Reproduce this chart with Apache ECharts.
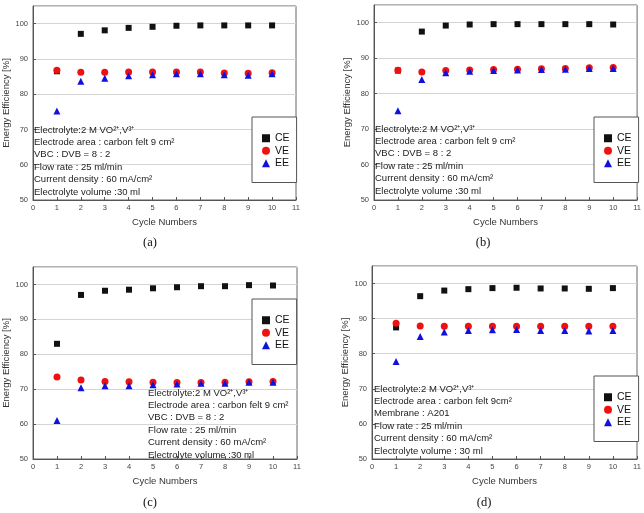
<!DOCTYPE html>
<html>
<head>
    <meta charset="utf-8">
    <title>Energy efficiency - 4 panels</title>
    <script src="https://cdn.jsdelivr.net/npm/echarts@6/dist/echarts.min.js"></script>
</head>
<body style="margin:0">
    <div id="main" style="width:644px;height:513px"></div>
    <script type="text/javascript">
    // cycle numbers
    var cycles = [1, 2, 3, 4, 5, 6, 7, 8, 9, 10];

    // (a)
    var ceA = [86.5, 97.1, 98.1, 98.8, 99.1, 99.4, 99.5, 99.5, 99.5, 99.5];
    var veA = [86.8, 86.2, 86.2, 86.3, 86.3, 86.3, 86.3, 86.0, 85.9, 86.1];
    var eeA = [75.2, 83.7, 84.5, 85.2, 85.5, 85.8, 85.8, 85.5, 85.4, 85.8];
    // (b)
    var ceB = [86.5, 97.5, 99.2, 99.5, 99.6, 99.6, 99.6, 99.6, 99.6, 99.5];
    var veB = [86.6, 86.1, 86.5, 86.7, 86.8, 86.9, 87.0, 87.1, 87.3, 87.4];
    var eeB = [75.2, 84.0, 85.9, 86.3, 86.5, 86.7, 86.8, 86.9, 87.1, 87.1];
    // (c)
    var ceC = [83.0, 97.0, 98.2, 98.5, 98.9, 99.2, 99.5, 99.5, 99.8, 99.7];
    var veC = [73.5, 72.6, 72.2, 72.1, 72.0, 71.9, 71.9, 72.0, 72.1, 72.2];
    var eeC = [61.0, 70.4, 71.0, 71.0, 71.3, 71.5, 71.7, 71.7, 72.0, 72.0];
    // (d)
    var ceD = [87.5, 96.4, 98.0, 98.4, 98.7, 98.8, 98.6, 98.6, 98.5, 98.7];
    var veD = [88.7, 87.9, 87.8, 87.8, 87.8, 87.8, 87.8, 87.8, 87.8, 87.8];
    var eeD = [77.8, 84.9, 86.2, 86.6, 86.8, 86.9, 86.6, 86.6, 86.5, 86.6];

    var seriesNames = ['CE', 'VE', 'EE'];
    var notesABC = ['Electrolyte:2 M VO²⁺,V³⁺', 'Electrode area : carbon felt 9 cm²', 'VBC : DVB = 8 : 2',
                    'Flow rate : 25 ml/min', 'Current density : 60 mA/cm²', 'Electrolyte volume :30 ml'];
    var notesD = ['Electrolyte:2 M VO²⁺,V³⁺', 'Electrode area : carbon felt 9cm²', 'Membrane : A201',
                  'Flow rate : 25 ml/min', 'Current density : 60 mA/cm²', 'Electrolyte volume : 30 ml'];
    var captions = ['(a)', '(b)', '(c)', '(d)'];

    var panelData = [[ceA, veA, eeA], [ceB, veB, eeB], [ceC, veC, eeC], [ceD, veD, eeD]];

    // layout
    var grids = [
        {left: 33, top: 6, width: 263, height: 194},
        {left: 374, top: 5, width: 264, height: 195},
        {left: 32, top: 267, width: 265, height: 192},
        {left: 372, top: 266, width: 265, height: 193}
    ];
    var legendPos = [
        {left: 252, top: 117},
        {left: 594, top: 117},
        {left: 252, top: 299},
        {left: 594, top: 376}
    ];
    var notePos = [
        {x: 34, y: 125, lines: notesABC},
        {x: 375, y: 124, lines: notesABC},
        {x: 148, y: 388, lines: notesABC},
        {x: 374, y: 384, lines: notesD}
    ];
    var capPos = [[150, 243], [483, 243], [150, 503], [484, 503]];

    var symbols = ['rect', 'circle', 'triangle'];
    var colors = ['#111111', '#ee1111', '#1111dd'];
    var sizes = [6, 7, 7];

    var xAxes = [], yAxes = [], series = [], legends = [], graphics = [];
    grids.forEach(function (g, i) {
        g.show = true;
        g.borderColor = '#666';
        g.borderWidth = 1;
        xAxes.push({
            type: 'value', gridIndex: i, min: 0, max: 11, interval: 1,
            name: 'Cycle Numbers', nameLocation: 'middle', nameGap: 17,
            nameTextStyle: {fontSize: 9.5, color: '#333', fontFamily: 'Liberation Sans'},
            axisLine: {lineStyle: {color: '#555'}},
            axisTick: {inside: true, length: 3, lineStyle: {color: '#555'}},
            axisLabel: {fontSize: 7.5, color: '#444', margin: 4, fontFamily: 'Liberation Sans'},
            splitLine: {show: false}
        });
        yAxes.push({
            type: 'value', gridIndex: i, min: 50, max: 105, interval: 10,
            name: 'Energy Efficiency [%]', nameLocation: 'middle', nameGap: 22,
            nameTextStyle: {fontSize: 9.5, color: '#333', fontFamily: 'Liberation Sans'},
            axisLine: {lineStyle: {color: '#555'}},
            axisTick: {inside: true, length: 3, lineStyle: {color: '#555'}},
            axisLabel: {fontSize: 7.5, color: '#444', margin: 5, showMaxLabel: false, fontFamily: 'Liberation Sans'},
            splitLine: {show: true, lineStyle: {color: '#d4d4d4'}}
        });
        panelData[i].forEach(function (vals, k) {
            series.push({
                name: seriesNames[k], type: 'scatter', xAxisIndex: i, yAxisIndex: i,
                symbol: symbols[k], symbolSize: sizes[k],
                itemStyle: {color: colors[k], opacity: 1},
                data: cycles.map(function (c, j) { return [c, vals[j]]; })
            });
        });
        legends.push({
            data: seriesNames, orient: 'vertical',
            left: legendPos[i].left, top: legendPos[i].top,
            padding: [15, 7, 13, 10], itemGap: 0, itemWidth: 8, itemHeight: 8,
            borderColor: '#555', borderWidth: 1, backgroundColor: '#fff',
            selectedMode: false,
            textStyle: {fontSize: 10.5, lineHeight: 12.5, color: '#111', fontFamily: 'Liberation Sans'}
        });
        notePos[i].lines.forEach(function (t, j) {
            graphics.push({
                type: 'text', x: notePos[i].x, y: notePos[i].y + j * 12.4, z: 100,
                style: {text: t, fontSize: 9.5, fill: '#222', fontFamily: 'Liberation Sans'}
            });
        });
        graphics.push({
            type: 'text', x: capPos[i][0], y: capPos[i][1],
            style: {text: captions[i], fontSize: 12.5, fill: '#111', fontFamily: 'Liberation Serif',
                    textAlign: 'center', textVerticalAlign: 'middle'}
        });
    });

    var myChart = echarts.init(document.getElementById('main'));
    myChart.setOption({
        backgroundColor: '#fff',
        animation: false,
        grid: grids,
        xAxis: xAxes,
        yAxis: yAxes,
        legend: legends,
        series: series,
        graphic: graphics
    });
    </script>
</body>
</html>
